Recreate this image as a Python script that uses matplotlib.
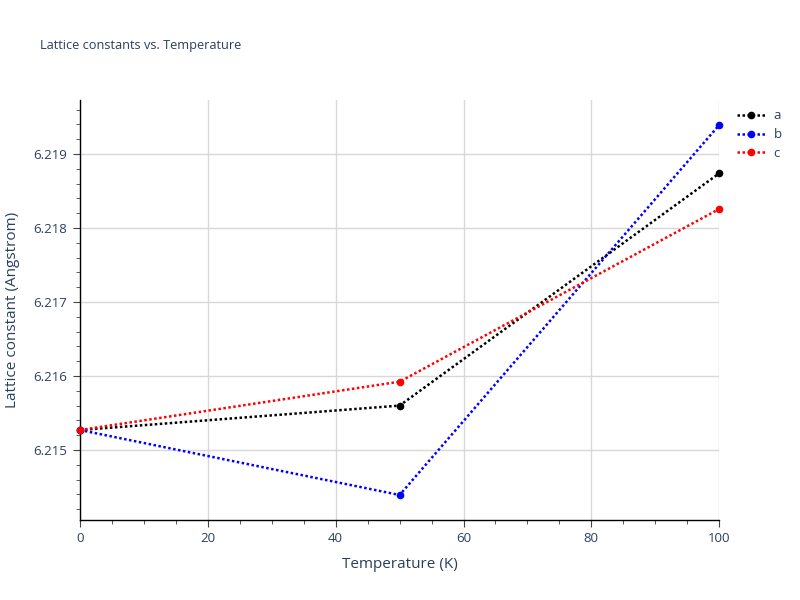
import matplotlib
matplotlib.use("Agg")
import matplotlib.pyplot as plt
from matplotlib.ticker import MultipleLocator

plt.rcParams['font.family'] = ['Open Sans', 'DejaVu Sans']

temps = [0, 50, 100]
lat_a = [6.21527, 6.215600, 6.218739]
lat_b = [6.21527, 6.214392, 6.219392]
lat_c = [6.21527, 6.215923, 6.218257]
series_names = ['a', 'b', 'c']
series_colors = ['black', 'blue', 'red']

text_col = '#2a3f5f'

fig = plt.figure(figsize=(8, 6), dpi=100)
ax = fig.add_axes([0.1, 1 - 520 / 600, 0.799, 420 / 600])

for vals, name, col in zip([lat_a, lat_b, lat_c], series_names, series_colors):
    ax.plot(temps, vals, color=col, linestyle=(0, (1, 1)), linewidth=1.8,
            marker='o', markersize=4.5, label=name, clip_on=False, zorder=3)

ax.set_xlim(0, 100)
ax.set_ylim(6.214054, 6.219730)

ax.xaxis.set_major_locator(MultipleLocator(20))
ax.xaxis.set_minor_locator(MultipleLocator(5))
ax.yaxis.set_major_locator(MultipleLocator(0.001))
ax.yaxis.set_minor_locator(MultipleLocator(0.0002))
ax.yaxis.set_major_formatter(matplotlib.ticker.FormatStrFormatter('%.3f'))

ax.grid(True, which='major', color='#d8d8d8', linewidth=1)
ax.set_axisbelow(True)
for s in ['top', 'right']:
    ax.spines[s].set_visible(False)
for s in ['left', 'bottom']:
    ax.spines[s].set_color('black')
    ax.spines[s].set_linewidth(1)

ax.tick_params(which='major', direction='out', length=5, color='#444444',
               labelsize=9.5, labelcolor=text_col, pad=4)
ax.tick_params(which='minor', direction='out', length=3, color='#444444')

ax.set_xlabel('Temperature (K)', fontsize=11, color=text_col, labelpad=8)
ax.set_ylabel('Lattice constant (Angstrom)', fontsize=11, color=text_col, labelpad=10)

fig.text(40 / 800, 1 - 46 / 600, 'Lattice constants vs. Temperature',
         fontsize=9.2, color=text_col, va='center', ha='left')

leg = ax.legend(loc='upper left', bbox_to_anchor=(1.013, 1.0), frameon=False,
                fontsize=9.5, handlelength=2.2, labelspacing=0.45,
                borderaxespad=0.3, handletextpad=0.6)
for t in leg.get_texts():
    t.set_color(text_col)

fig.savefig('out.png', dpi=100)
